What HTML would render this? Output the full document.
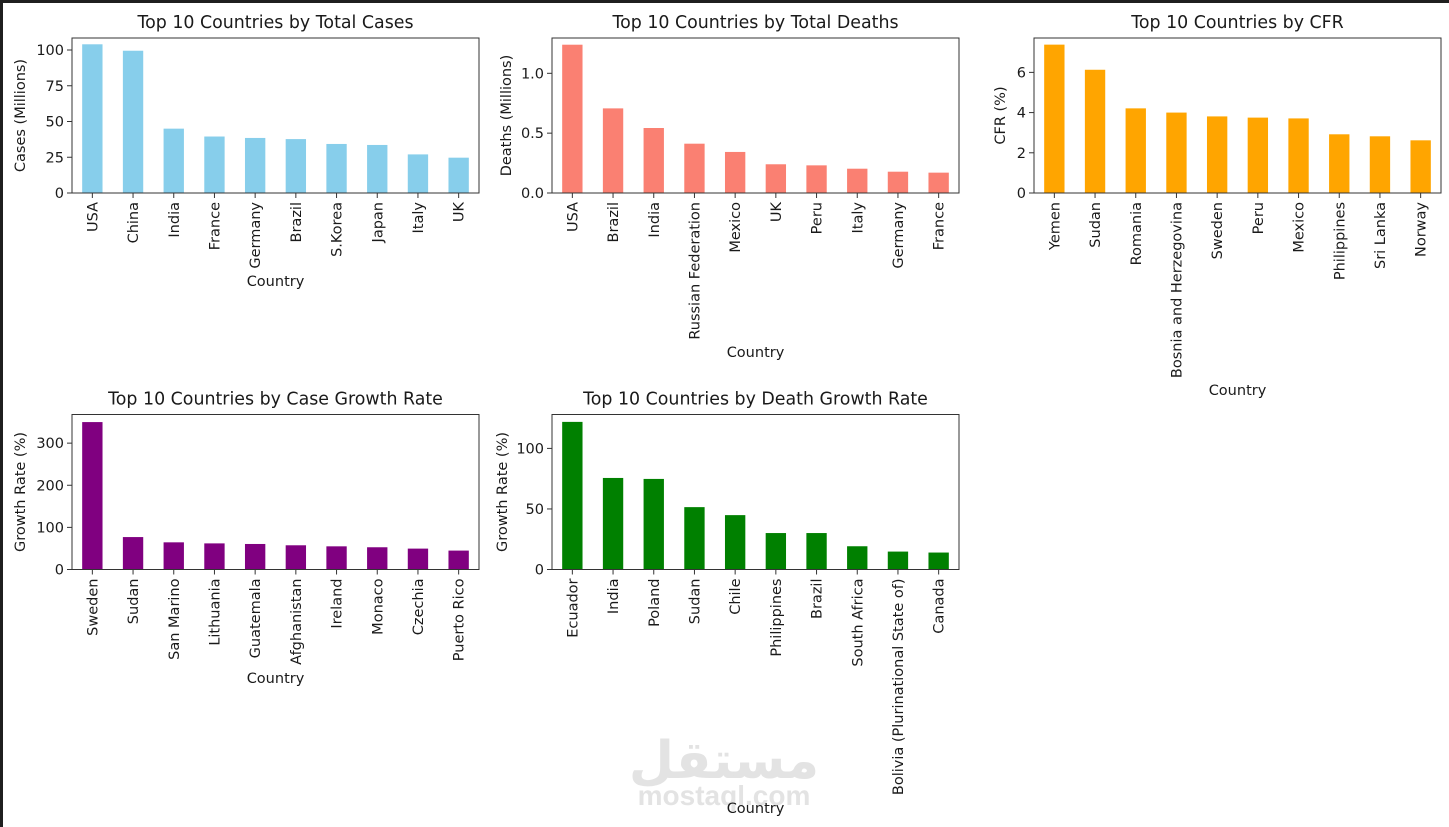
<!DOCTYPE html>
<html><head><meta charset="utf-8"><style>
html,body{margin:0;padding:0;background:#fff;}
body{width:1449px;height:827px;overflow:hidden;position:relative;}
svg{position:absolute;left:0;top:0;font-family:"DejaVu Sans","Liberation Sans",sans-serif;}
</style></head><body>
<svg id="chart" width="1449" height="827" xmlns="http://www.w3.org/2000/svg">
<rect x="0" y="0" width="1449" height="3" fill="#1f1f1f"/>
<rect x="0" y="0" width="3" height="827" fill="#1f1f1f"/>
<g fill="#e3e3e3" font-weight="bold" text-anchor="middle">
<text x="724" y="778" font-size="52" font-family="'DejaVu Sans',sans-serif">مستقل</text>
<text x="724" y="805" font-size="28" font-family="'Liberation Sans',sans-serif">mostaql.com</text>
</g>
</svg>
<script>
const casesCountries=["USA","China","India","France","Germany","Brazil","S.Korea","Japan","Italy","UK"];
const casesValues=[104,99.5,45,39.5,38.5,37.7,34.3,33.6,27,24.7];
const casesTicks=[0,25,50,75,100];
const deathsCountries=["USA","Brazil","India","Russian Federation","Mexico","UK","Peru","Italy","Germany","France"];
const deathsValues=[1.239,0.707,0.543,0.412,0.343,0.24,0.231,0.203,0.178,0.17];
const deathsTicks=[0,0.5,1.0];
const deathsTickLabels=["0.0","0.5","1.0"];
const cfrCountries=["Yemen","Sudan","Romania","Bosnia and Herzegovina","Sweden","Peru","Mexico","Philippines","Sri Lanka","Norway"];
const cfrValues=[7.38,6.13,4.21,4.0,3.81,3.75,3.71,2.92,2.82,2.62];
const cfrTicks=[0,2,4,6];
const caseGrowthCountries=["Sweden","Sudan","San Marino","Lithuania","Guatemala","Afghanistan","Ireland","Monaco","Czechia","Puerto Rico"];
const caseGrowthValues=[350,77,64.5,62,60.6,57.5,55,52.8,49.6,44.9];
const caseGrowthTicks=[0,100,200,300];
const deathGrowthCountries=["Ecuador","India","Poland","Sudan","Chile","Philippines","Brazil","South Africa","Bolivia (Plurinational State of)","Canada"];
const deathGrowthValues=[121.9,75.6,74.8,51.5,44.9,30.1,30.1,19.2,14.8,14];
const deathGrowthTicks=[0,50,100];

const NS="http://www.w3.org/2000/svg";
const svg=document.getElementById('chart');
function mk(tag,attrs,parent){const e=document.createElementNS(NS,tag);for(const k in attrs)e.setAttribute(k,attrs[k]);(parent||svg).appendChild(e);return e;}
const FS='14.5';
function drawChart(o){
  const g=mk('g',{});
  
  
  const L=o.x,R=o.x+407,T=o.y,B=o.y+155;
  const yS=v=>B-(v/o.ymax)*(B-T);
  const n=o.cats.length,step=(R-L)/n;
  const xS=i=>L+step*(i+0.5);
  const t=mk('text',{x:(L+R)/2,y:T-10,'text-anchor':'middle','font-size':'17.4',fill:'#1a1a1a'},g);
  t.textContent=o.title;
  
  
  o.vals.forEach((v,i)=>{
    const r=mk('rect',{x:xS(i)-step/4,y:yS(v),width:step/2,height:B-yS(v),fill:o.color},g);
    
    
  });
  const f=mk('rect',{x:L,y:T,width:R-L,height:B-T,fill:'none',stroke:'#333',"stroke-width":1},g);
  
  
  o.ticks.forEach((v,i)=>{
    mk('line',{x1:L-5,x2:L,y1:yS(v),y2:yS(v),stroke:'#333'},g);
    const tl=mk('text',{x:L-8,y:yS(v)+5,'text-anchor':'end','font-size':FS,fill:'#1a1a1a'},g);
    tl.textContent=o.tickLabels?o.tickLabels[i]:String(v);
    
    
  });
  o.cats.forEach((c,i)=>{
    const x=xS(i);
    mk('line',{x1:x,x2:x,y1:B,y2:B+5,stroke:'#333'},g);
    const tl=mk('text',{x:x+5,y:B+9,'text-anchor':'end','font-size':FS,fill:'#1a1a1a',transform:`rotate(-90 ${x+5} ${B+9})`},g);
    tl.textContent=c;
    
    
  });
  const xl=mk('text',{x:(L+R)/2,y:o.xlabY+5,'text-anchor':'middle','font-size':FS,fill:'#1a1a1a'},g);
  xl.textContent='Country';
  
  
  const yx=o.ylabX,yy=(T+B)/2;
  const yl=mk('text',{x:yx,y:yy+5,'text-anchor':'middle','font-size':FS,fill:'#1a1a1a',transform:`rotate(-90 ${yx} ${yy})`},g);
  yl.textContent=o.ylabel;
  
  
}
drawChart({name:'total-cases-chart',x:72,y:38,ymax:108.4,cats:casesCountries,vals:casesValues,ticks:casesTicks,color:'#87ceeb',title:'Top 10 Countries by Total Cases',ylabel:'Cases (Millions)',ylabX:20,xlabY:281});
drawChart({name:'total-deaths-chart',x:552,y:38,ymax:1.295,cats:deathsCountries,vals:deathsValues,ticks:deathsTicks,tickLabels:deathsTickLabels,color:'#fa8072',title:'Top 10 Countries by Total Deaths',ylabel:'Deaths (Millions)',ylabX:506,xlabY:352});
drawChart({name:'cfr-chart',x:1034,y:38,ymax:7.71,cats:cfrCountries,vals:cfrValues,ticks:cfrTicks,color:'#ffa500',title:'Top 10 Countries by CFR',ylabel:'CFR (%)',ylabX:1000,xlabY:390});
drawChart({name:'case-growth-chart',x:72,y:414.5,ymax:368,cats:caseGrowthCountries,vals:caseGrowthValues,ticks:caseGrowthTicks,color:'#800080',title:'Top 10 Countries by Case Growth Rate',ylabel:'Growth Rate (%)',ylabX:20,xlabY:678});
drawChart({name:'death-growth-chart',x:552,y:414.5,ymax:128,cats:deathGrowthCountries,vals:deathGrowthValues,ticks:deathGrowthTicks,color:'#008000',title:'Top 10 Countries by Death Growth Rate',ylabel:'Growth Rate (%)',ylabX:502,xlabY:808});
</script>
</body></html>
